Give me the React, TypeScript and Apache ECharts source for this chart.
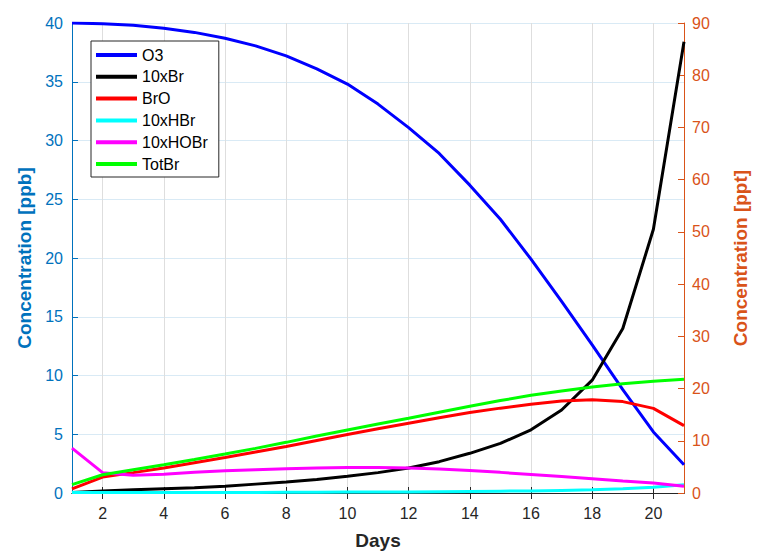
import React, { useEffect, useRef } from "react";
import * as echarts from "echarts";

const days = [1, 2, 3, 4, 5, 6, 7, 8, 9, 10, 11, 12, 13, 14, 15, 16, 17, 18, 19, 20, 21];
const xTicks = [2, 4, 6, 8, 10, 12, 14, 16, 18, 20];

// ppb (left axis)
const o3 = [40.0, 39.93, 39.8, 39.55, 39.2, 38.7, 38.05, 37.2, 36.1, 34.8, 33.1, 31.1, 28.9, 26.2, 23.3, 19.9, 16.3, 12.6, 8.8, 5.2, 2.4];
// ppt (right axis)
const br10 = [0.1, 0.4, 0.6, 0.8, 1.0, 1.3, 1.7, 2.1, 2.6, 3.2, 3.9, 4.8, 6.0, 7.6, 9.5, 12.1, 15.9, 21.6, 31.5, 50.5, 86.4];
const bro = [0.8, 3.05, 3.9, 4.8, 5.8, 6.8, 7.85, 8.9, 10.05, 11.2, 12.3, 13.35, 14.4, 15.4, 16.25, 17.0, 17.6, 17.85, 17.5, 16.2, 12.9];
const hbr10 = [0.1, 0.1, 0.1, 0.1, 0.1, 0.1, 0.1, 0.15, 0.15, 0.2, 0.2, 0.2, 0.25, 0.3, 0.35, 0.4, 0.5, 0.6, 0.8, 1.1, 1.6];
const hobr10 = [8.6, 3.9, 3.4, 3.6, 3.95, 4.25, 4.45, 4.65, 4.8, 4.9, 4.9, 4.8, 4.6, 4.3, 3.95, 3.55, 3.15, 2.75, 2.3, 1.9, 1.3];
const totbr = [1.6, 3.5, 4.45, 5.4, 6.4, 7.45, 8.55, 9.7, 10.9, 12.05, 13.2, 14.3, 15.45, 16.6, 17.7, 18.7, 19.55, 20.3, 20.9, 21.4, 21.8];

const FONT = "'Liberation Sans', Arial, Helvetica, sans-serif";
const BLUE = "#0072BD";
const ORANGE = "#D95319";
const DARK = "#262626";

const pair = (ys: number[]) => days.map((d, i) => [d, ys[i]]);

export default function App() {
  const ref = useRef<HTMLDivElement>(null);
  useEffect(() => {
    if (!ref.current) return;
    const chart = echarts.init(ref.current, undefined, { renderer: "svg" });
    const mk = (name: string, color: string, data: number[], yAxisIndex: number) => ({
      name,
      type: "line",
      yAxisIndex,
      data: pair(data),
      symbol: "none",
      lineStyle: { color, width: 3 },
      itemStyle: { color },
      z: 3,
    });
    chart.setOption({
      animation: false,
      backgroundColor: "#ffffff",
      grid: { left: 72, right: 67, top: 23, bottom: 60, containLabel: false },
      legend: {
        orient: "vertical",
        left: 91,
        top: 41,
        icon: "rect",
        itemWidth: 41,
        itemHeight: 4,
        itemGap: 3.8,
        padding: [5, 11, 4, 5],
        backgroundColor: "#ffffff",
        borderColor: DARK,
        borderWidth: 1,
        borderRadius: 0,
        textStyle: { fontFamily: FONT, fontSize: 16, color: "#000000", lineHeight: 18 },
        data: ["O3", "10xBr", "BrO", "10xHBr", "10xHOBr", "TotBr"],
      },
      xAxis: [
        {
          type: "value",
          position: "bottom",
          min: 1,
          max: 21,
          axisLine: { show: true, lineStyle: { color: DARK, width: 1 } },
          axisTick: { show: true, inside: true, length: 6, customValues: xTicks, lineStyle: { color: DARK } },
          axisLabel: { customValues: xTicks, color: DARK, fontSize: 16, fontFamily: FONT, margin: 12 },
          splitLine: { show: true, lineStyle: { color: "#dedede", width: 1 } },
          name: "Days",
          nameLocation: "middle",
          nameGap: 38,
          nameTextStyle: { fontFamily: FONT, fontSize: 19, fontWeight: "bold", color: DARK },
        },
        {
          type: "value",
          position: "top",
          min: 1,
          max: 21,
          axisLine: { show: true, lineStyle: { color: DARK, width: 1 } },
          axisTick: { show: true, inside: true, length: 6, customValues: xTicks, lineStyle: { color: DARK } },
          axisLabel: { show: false },
          splitLine: { show: false },
        },
      ],
      yAxis: [
        {
          type: "value",
          position: "left",
          min: 0,
          max: 40,
          interval: 5,
          axisLine: { show: true, lineStyle: { color: BLUE, width: 1 } },
          axisTick: { show: true, inside: true, length: 6, lineStyle: { color: BLUE } },
          axisLabel: { color: BLUE, fontSize: 16, fontFamily: FONT, margin: 9 },
          splitLine: { show: true, lineStyle: { color: "#d9eaf5", width: 1 } },
          name: "Concentration [ppb]",
          nameLocation: "middle",
          nameGap: 38,
          nameTextStyle: { fontFamily: FONT, fontSize: 19, fontWeight: "bold", color: BLUE },
        },
        {
          type: "value",
          position: "right",
          min: 0,
          max: 90,
          interval: 10,
          axisLine: { show: true, lineStyle: { color: ORANGE, width: 1 } },
          axisTick: { show: true, inside: true, length: 6, lineStyle: { color: ORANGE } },
          axisLabel: { color: ORANGE, fontSize: 16, fontFamily: FONT, margin: 8 },
          splitLine: { show: false },
          name: "Concentration [ppt]",
          nameLocation: "middle",
          nameGap: 47,
          nameRotate: 90,
          nameTextStyle: { fontFamily: FONT, fontSize: 19, fontWeight: "bold", color: ORANGE },
        },
      ],
      series: [
        mk("O3", "#0000ff", o3, 0),
        mk("10xBr", "#000000", br10, 1),
        mk("BrO", "#ff0000", bro, 1),
        mk("10xHBr", "#00ffff", hbr10, 1),
        mk("10xHOBr", "#ff00ff", hobr10, 1),
        mk("TotBr", "#00ff00", totbr, 1),
      ],
    });
    return () => chart.dispose();
  }, []);
  return (
    <div
      ref={ref}
      style={{ position: "fixed", left: 0, top: 0, width: 758, height: 555, background: "#fff" }}
    />
  );
}
